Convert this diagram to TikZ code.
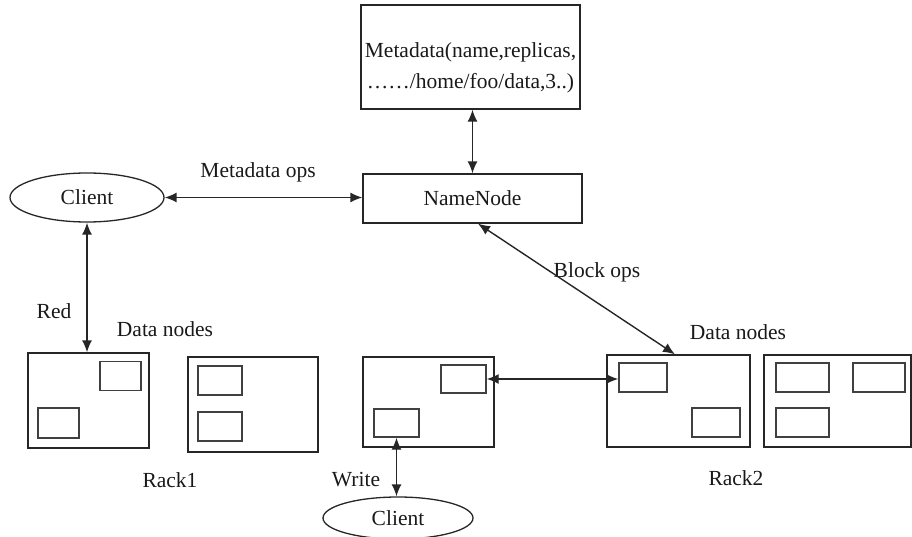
\documentclass[tikz,border=0pt]{standalone}
\usepackage{fontspec}
\setmainfont{Liberation Serif}
\usetikzlibrary{arrows.meta,shapes.geometric}
\begin{document}
\begin{tikzpicture}[x=1pt,y=-1pt,
  every node/.style={font=\fontsize{21.5}{26}\selectfont, text=black!90},
  box/.style={draw=black!85, line width=1.3pt, inner sep=0pt},
  inbox/.style={draw=black!75, line width=1.4pt, inner sep=0pt},
  oval/.style={draw=black!85, line width=1.3pt, ellipse, inner sep=0pt},
  lbl/.style={inner sep=0pt},
  dbl/.style={line width=1.4pt, draw=black!85, {Latex[length=12pt,width=10pt]}-{Latex[length=12pt,width=10pt]}}]
\useasboundingbox (0,0) rectangle (912,537);
% top
\node[box, minimum width=219pt, minimum height=104pt] (meta) at (470.5,57) {};
\node[lbl, align=center] (metatext) at (470.5,68) {Metadata(name,replicas,\\[5pt]……/home/foo/data,3..)};
\node[box, minimum width=219pt, minimum height=49pt] (nn) at (472.5,198.5) {NameNode};
\node[oval, minimum width=154pt, minimum height=49pt] (c1) at (87,197.5) {Client};
% rack 1
\node[box, minimum width=121pt, minimum height=95pt] (r1a) at (88.5,400.5) {};
\node[inbox, minimum width=41pt, minimum height=29pt] (r1a1) at (120.5,376) {};
\node[inbox, minimum width=41pt, minimum height=30pt] (r1a2) at (58.5,423) {};
\node[box, minimum width=130pt, minimum height=95pt] (r1b) at (253,404.5) {};
\node[inbox, minimum width=44pt, minimum height=29pt] (r1b1) at (220,380.5) {};
\node[inbox, minimum width=44pt, minimum height=29pt] (r1b2) at (220,426.5) {};
% middle
\node[box, minimum width=131pt, minimum height=90pt] (m) at (428.5,402) {};
\node[inbox, minimum width=45pt, minimum height=28pt] (m1) at (463.5,379) {};
\node[inbox, minimum width=45pt, minimum height=28pt] (m2) at (396.5,423) {};
% rack 2
\node[box, minimum width=143pt, minimum height=92pt] (r2a) at (678.5,401) {};
\node[inbox, minimum width=48pt, minimum height=29pt] (r2a1) at (643,377.5) {};
\node[inbox, minimum width=48pt, minimum height=29pt] (r2a2) at (716,422.5) {};
\node[box, minimum width=147pt, minimum height=92pt] (r2b) at (837.5,401) {};
\node[inbox, minimum width=53pt, minimum height=29pt] (r2b1) at (802.5,377.5) {};
\node[inbox, minimum width=52pt, minimum height=29pt] (r2b2) at (879,377.5) {};
\node[inbox, minimum width=53pt, minimum height=29pt] (r2b3) at (802.5,422.5) {};
% bottom client
\node[oval, minimum width=150pt, minimum height=42pt] (c2) at (398,518) {Client};
% labels
\node[lbl] (lmo) at (258,172) {Metadata ops};
\node[lbl] (lred) at (54,311) {Red};
\node[lbl] (ldn1) at (165,329) {Data nodes};
\node[lbl] (ldn2) at (738,332) {Data nodes};
\node[lbl] (lbo) at (597,272) {Block ops};
\node[lbl] (lr1) at (170,480) {Rack1};
\node[lbl] (lw) at (356,480) {Write};
\node[lbl] (lr2) at (736,478) {Rack2};
% connectors
\coordinate (bo1) at ([xshift=5.5pt]nn.south);
\coordinate (bo2) at ([xshift=-3.5pt]r2a.north);
\draw[dbl] (nn.north) -- (nn.north |- meta.south);
\draw[dbl] (c1.east) -- (c1.east -| nn.west);
\draw[dbl] (c1.south) -- (c1.south |- r1a.north);
\draw[dbl] (bo1) -- (bo2);
\draw[dbl] (m1.east) -- (m1.east -| r2a1.west);
\draw[dbl] (m2.south) -- (m2.south |- c2.north);
\end{tikzpicture}
\end{document}
